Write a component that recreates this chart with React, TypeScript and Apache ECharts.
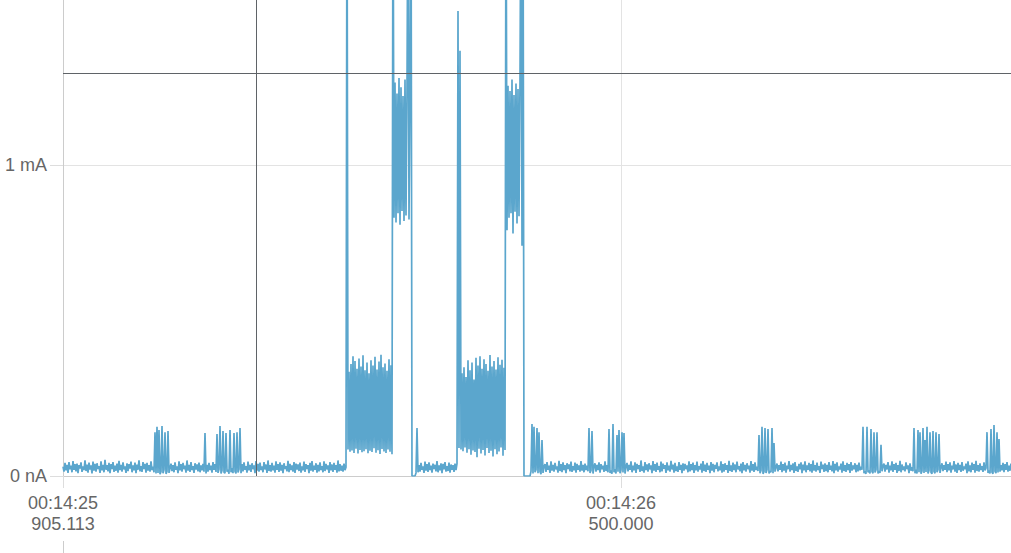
import React, { useEffect, useRef } from "react";
import * as echarts from "echarts";

// Time base (ms after 00:14:25) and sample period of the recording
const START_MS = 905.113;
const SAMPLE_MS = 1.066106;

// Current samples in µA, segment by segment
const idle1 = [
  30, 14, 42, 18, 36, 10, 45, 22, 33, 12,
  48, 20, 38, 15, 40, 9, 35, 24, 44, 13,
  31, 19, 50, 16, 37, 11, 43, 21, 34, 8,
  46, 17, 39, 14, 41, 23, 32, 10, 47, 18,
  36, 12, 52, 20, 35, 15, 42, 9, 38, 22,
  45, 13, 33, 17, 40, 11, 49, 19, 36, 14,
  44, 21, 31, 10, 41, 16, 38, 24, 46, 12,
  34, 18, 43, 9, 37, 20, 50, 15, 32, 13,
  45, 22, 39, 11, 42, 17, 35, 14, 47, 19,
  30,
];
const pulses1 = [12, 141, 8, 158, 10, 148, 6, 14, 161, 9, 20, 141, 7, 15, 145, 10, 25];
const idle2 = [
  40, 16, 35, 12, 44, 20, 31, 9, 47, 18,
  38, 14, 42, 22, 33, 11, 50, 17, 36, 13,
  45, 19, 32, 10, 41, 21, 37, 15, 43, 12,
  34, 18, 39, 14,
];
const pulse2 = [138, 8];
const idle3 = [36, 14, 42, 19, 33, 11, 45, 20, 38, 13];
const pulses3 = [
  135, 10, 22, 161, 8, 18, 145, 12, 9, 138, 14, 20, 7, 148, 12, 25, 9, 138, 15, 8, 141, 11, 22, 154, 9,
];
const idle4 = [
  38, 15, 44, 20, 32, 11, 46, 18, 36, 13,
  41, 22, 34, 9, 48, 17, 39, 14, 43, 19,
  31, 12, 45, 21, 37, 10, 50, 16, 35, 14,
  42, 18, 33, 11, 47, 20, 38, 13, 44, 17,
  36, 9, 41, 23, 32, 15, 49, 12, 39, 19,
  34, 14, 45, 10, 40, 21, 37, 16, 43, 11,
  31, 18, 46, 13, 38, 22, 35, 9, 42, 17,
  48, 14, 33, 20, 41, 11, 36, 15, 44, 19,
  32, 12, 47, 16, 39, 21, 34, 10, 45, 18,
  37, 13, 42, 20, 35, 11, 50, 15, 38, 17,
  33, 14, 40, 19, 28,
];
const burstLow1 = [
  2000,
  85, 335, 78, 360, 82, 385, 74, 370, 88, 345,
  72, 378, 84, 352, 76, 388, 80, 340, 86, 365,
  73, 330, 81, 372, 77, 355, 89, 383, 75, 342,
  83, 368, 71, 390, 87, 350, 79, 362, 74, 338,
  85, 375, 78, 356, 70,
];
const burstHigh1 = [
  2000, 830, 1265, 815, 1230, 845, 1280, 808, 1250, 852,
  1222, 820, 1275, 838, 1240, 2000, 825, 1260, 2000,
];
const gap1 = [0, 0, 0, 0, 10, 154, 12];
const idle5 = [
  35, 14, 42, 20, 31, 10, 46, 17, 38, 13,
  44, 19, 33, 11, 40, 22, 36, 15, 48, 12,
  34, 18, 41, 9, 39, 21, 45, 14, 32, 16,
  43, 11, 37, 20, 35, 13, 40, 19,
];
const burstLow2 = [
  40, 1495, 90, 1367, 85,
  330, 80, 350, 92, 318, 75, 372, 86, 340, 68,
  365, 82, 310, 77, 380, 60, 355, 88, 385, 72,
  345, 84, 375, 66, 360, 90, 338, 74, 389, 81,
  352, 63, 370, 86, 342, 70, 382, 79, 358, 92,
  374, 65, 348, 84,
];
const burstHigh2 = [
  2000, 790, 1255, 830, 1238, 845, 1275, 780, 1225, 850,
  1262, 812, 1244, 835, 1270, 2000, 740, 2000,
];
const gap2 = [0, 0, 0, 0, 0, 0, 0];
const pulses4 = [15, 167, 8, 158, 12, 20, 154, 9, 141, 14, 6, 116, 10, 30];
const idle6 = [
  38, 13, 45, 20, 33, 10, 47, 17, 36, 14,
  42, 21, 31, 11, 49, 16, 38, 12, 44, 19,
  35, 9, 41, 22, 37, 15, 46, 13, 32, 18,
  43, 11, 39, 20, 34, 14, 48, 17, 36, 12,
  40, 19, 33, 15,
];
const pulses5 = [154, 10, 18, 145, 8];
const idle7 = [30, 41, 14, 36, 19, 44, 11, 38, 22, 33, 13, 47, 16, 35, 12];
const pulses6 = [151, 10, 18, 7, 167, 12, 22, 8, 132, 14, 148, 9, 20, 141, 11, 138, 8, 30];
const idle8 = [
  42, 15, 36, 20, 47, 12, 33, 18, 44, 10,
  39, 22, 35, 13, 50, 16, 31, 11, 45, 19,
  37, 14, 41, 21, 34, 9, 48, 17, 38, 13,
  43, 20, 32, 12, 46, 15, 40, 23, 35, 10,
  44, 18, 33, 14, 49, 21, 37, 11, 42, 16,
  31, 13, 45, 20, 36, 9, 41, 17, 39, 22,
  34, 12, 47, 15, 38, 19, 43, 10, 35, 18,
  46, 14, 32, 21, 40, 11, 48, 16, 37, 13,
  42, 20, 33, 9, 45, 17, 39, 12, 36, 23,
  44, 15, 31, 18, 47, 11, 38, 14, 41, 20,
  35, 10, 49, 16, 34, 13, 43, 19, 37, 12,
  46, 21, 32, 15, 40, 9, 45, 18, 36, 14,
  41, 22, 33, 11, 48, 17, 38, 13, 44, 19,
  30, 16,
];
const pulses7 = [132, 9, 18, 158, 7, 14, 154, 10, 20, 151, 8, 16, 12, 154, 9, 106, 14, 28];
const idle9 = [
  40, 15, 35, 20, 46, 12, 38, 17, 43, 11,
  33, 22, 48, 14, 36, 19, 41, 10, 45, 16,
  31, 13, 39, 21, 44, 9, 37, 18, 47, 12,
  34, 20, 42, 15, 38, 11, 50, 17, 35, 14,
  43, 19, 32, 10, 46, 22, 37, 13, 41, 16,
  36, 12, 45, 20, 33, 15, 48, 9, 39, 18,
  44, 14, 31, 21, 40, 11, 47, 16, 35, 13,
  42, 19, 38, 10, 45, 17, 34, 22, 41, 12,
  36, 15, 43, 18, 30,
];
const pulses8 = [20, 158, 9, 15, 7, 158, 12, 18, 8, 151, 14, 9, 141, 11, 20, 141, 8, 16, 10, 100, 15, 32];
const idle10 = [
  40, 14, 36, 21, 45, 11, 33, 18, 47, 13,
  38, 20, 42, 10, 35, 16, 49, 12, 37, 19,
  31, 15, 44, 22, 34, 9, 41, 17, 28,
];
const pulses9 = [
  15, 154, 9, 20, 8, 148, 12, 141, 7, 16,
  154, 10, 116, 13, 158, 8, 18, 141, 11, 7,
  145, 14, 9, 141, 12, 20, 135, 10, 26,
];
const idle11 = [
  41, 16, 35, 20, 46, 12, 38, 18, 44, 11,
  33, 21, 48, 14, 37, 10, 42, 19, 36, 13,
  45, 17, 31, 22, 40, 9, 47, 15, 34, 12,
  43, 20, 38, 11, 49, 16, 35, 14, 41, 19,
  32, 13, 44, 18, 25,
];
const pulses10 = [141, 10, 18, 8, 151, 12, 7, 164, 15, 9, 141, 11, 119, 14];
const idle12 = [35, 18, 42, 12, 38, 20, 45, 14, 33, 17, 40];

const currentUA: number[] = [
  ...idle1, ...pulses1, ...idle2, ...pulse2, ...idle3, ...pulses3, ...idle4,
  ...burstLow1, ...burstHigh1, ...gap1, ...idle5, ...burstLow2, ...burstHigh2,
  ...gap2, ...pulses4, ...idle6, ...pulses5, ...idle7, ...pulses6, ...idle8,
  ...pulses7, ...idle9, ...pulses8, ...idle10, ...pulses9, ...idle11,
  ...pulses10, ...idle12,
];

// Axis settings
const Y_MAX_UA = 1530.5;
const Y_TICKS = [0, 1000];
const X_TICKS = [START_MS, 1500];

// Cursor markers
const CURSOR_TIME_MS = 1110.87;
const CURSOR_CURRENT_UA = 1296;

const FONT = "'Liberation Sans', Arial, Helvetica, sans-serif";

function fmtTime(v: number): string {
  const sec = 25 + Math.floor(v / 1000);
  const ms = v - Math.floor(v / 1000) * 1000;
  return `00:14:${String(sec).padStart(2, "0")}\n${ms.toFixed(3)}`;
}

function fmtCurrent(v: number): string {
  if (v === 0) return "0 nA";
  return `${v / 1000} mA`;
}

export default function App() {
  const ref = useRef<HTMLDivElement>(null);

  useEffect(() => {
    if (!ref.current) return;
    const chart = echarts.init(ref.current, undefined, { renderer: "svg" });
    const data = currentUA.map((v, i) => [START_MS + i * SAMPLE_MS, v]);
    const xMax = START_MS + (currentUA.length - 1) * SAMPLE_MS;

    chart.setOption({
      animation: false,
      textStyle: { fontFamily: FONT },
      grid: { left: 63, right: 0, top: 0, bottom: 77, containLabel: false },
      xAxis: {
        type: "value",
        min: START_MS,
        max: xMax,
        axisLine: { show: true, lineStyle: { color: "#cccccc", width: 1 } },
        axisTick: { show: true, length: 12, customValues: X_TICKS, lineStyle: { color: "#dddddd" } },
        axisLabel: {
          customValues: X_TICKS,
          formatter: fmtTime,
          color: "#666666",
          fontSize: 18,
          lineHeight: 21,
          margin: 16,
          fontFamily: FONT,
        },
        splitLine: { show: true, lineStyle: { color: "#e3e3e3", width: 1 } },
      },
      yAxis: {
        type: "value",
        min: 0,
        max: Y_MAX_UA,
        interval: 1000,
        axisLine: { show: true, lineStyle: { color: "#cccccc", width: 1 } },
        axisTick: { show: true, length: 13, customValues: Y_TICKS, lineStyle: { color: "#dddddd" } },
        axisLabel: {
          customValues: Y_TICKS,
          formatter: fmtCurrent,
          color: "#666666",
          fontSize: 18,
          margin: 16,
          fontFamily: FONT,
        },
        splitLine: { show: true, lineStyle: { color: "#e3e3e3", width: 1 } },
      },
      series: [
        {
          type: "line",
          data,
          showSymbol: false,
          symbol: "none",
          clip: true,
          lineStyle: { color: "#5ba6cd", width: 1.7 },
          markLine: {
            silent: true,
            symbol: ["none", "none"],
            label: { show: false },
            lineStyle: { color: "#5f6367", width: 1, type: "solid" },
            data: [{ yAxis: CURSOR_CURRENT_UA }, { xAxis: CURSOR_TIME_MS }],
          },
        },
      ],
      graphic: [
        {
          type: "line",
          shape: { x1: 63.5, y1: 541, x2: 63.5, y2: 553 },
          style: { stroke: "#cccccc", lineWidth: 1 },
          silent: true,
        },
      ],
    });

    return () => chart.dispose();
  }, []);

  return (
    <div
      ref={ref}
      style={{ position: "fixed", left: 0, top: 0, width: 1011, height: 553, background: "#ffffff" }}
    />
  );
}
